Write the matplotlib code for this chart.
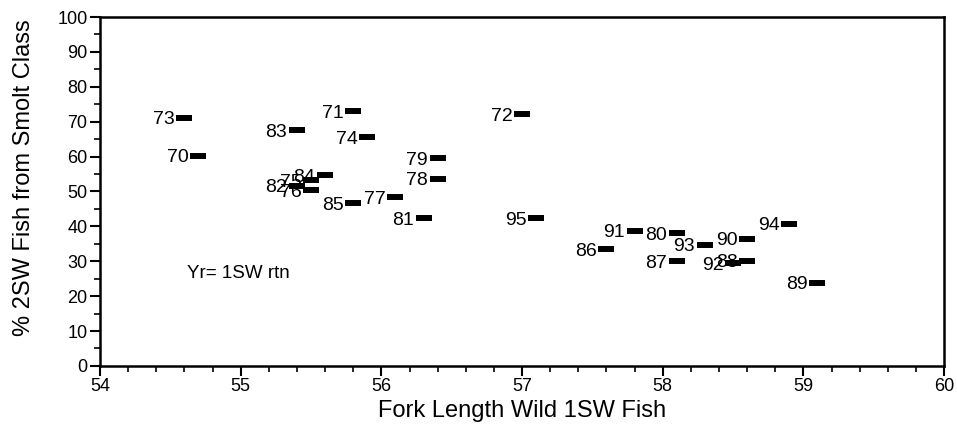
import matplotlib
matplotlib.use("Agg")
import matplotlib.pyplot as plt
from matplotlib.ticker import MultipleLocator

# return year labels, fork length (cm) and % 2SW fish
years = ["73", "70", "83", "71", "74", "72", "79", "78", "84", "75", "82", "76",
         "85", "77", "81", "95", "86", "91", "80", "93", "87", "90", "94", "88",
         "92", "89"]
fork_len = [54.6, 54.7, 55.4, 55.8, 55.9, 57.0, 56.4, 56.4, 55.6, 55.5, 55.4, 55.5,
            55.8, 56.1, 56.3, 57.1, 57.6, 57.8, 58.1, 58.3, 58.1, 58.6, 58.9, 58.6,
            58.5, 59.1]
pct_2sw = [71.1, 60.2, 67.6, 73.0, 65.6, 72.2, 59.6, 53.6, 54.7, 53.3, 51.6, 50.4,
           46.7, 48.4, 42.4, 42.4, 33.5, 38.7, 38.1, 34.7, 30.0, 36.4, 40.7, 30.1,
           29.5, 23.8]

plt.rcParams["font.family"] = ["Liberation Sans", "DejaVu Sans"]

fig = plt.figure(figsize=(9.57, 4.25), dpi=100)
ax = fig.add_axes([0.1045, 0.139, 0.882, 0.821])

ax.plot(fork_len, pct_2sw, ls="none", marker="_", ms=11.5, mew=4.3,
        color="black", solid_capstyle="butt")
for lbl, x, y in zip(years, fork_len, pct_2sw):
    ax.annotate(lbl, (x, y), xytext=(-7, -1.5), textcoords="offset points",
                ha="right", va="center", fontsize=14)

ax.text(54.62, 26.6, "Yr= 1SW rtn", fontsize=13.5, va="center")

ax.set_xlim(54, 60)
ax.set_ylim(0, 100)
ax.xaxis.set_major_locator(MultipleLocator(1))
ax.xaxis.set_minor_locator(MultipleLocator(0.2))
ax.yaxis.set_major_locator(MultipleLocator(10))
ax.yaxis.set_minor_locator(MultipleLocator(5))
ax.tick_params(which="major", direction="out", length=7, width=1.5, labelsize=13, pad=2)
ax.tick_params(which="minor", direction="out", length=4, width=1.2)
for sp in ax.spines.values():
    sp.set_linewidth(1.8)

ax.set_xlabel("Fork Length Wild 1SW Fish", fontsize=17, labelpad=3)
ax.set_ylabel("% 2SW Fish from Smolt Class", fontsize=17)
ax.yaxis.set_label_coords(-0.077, 0.54)

fig.savefig("out.png", dpi=100)
